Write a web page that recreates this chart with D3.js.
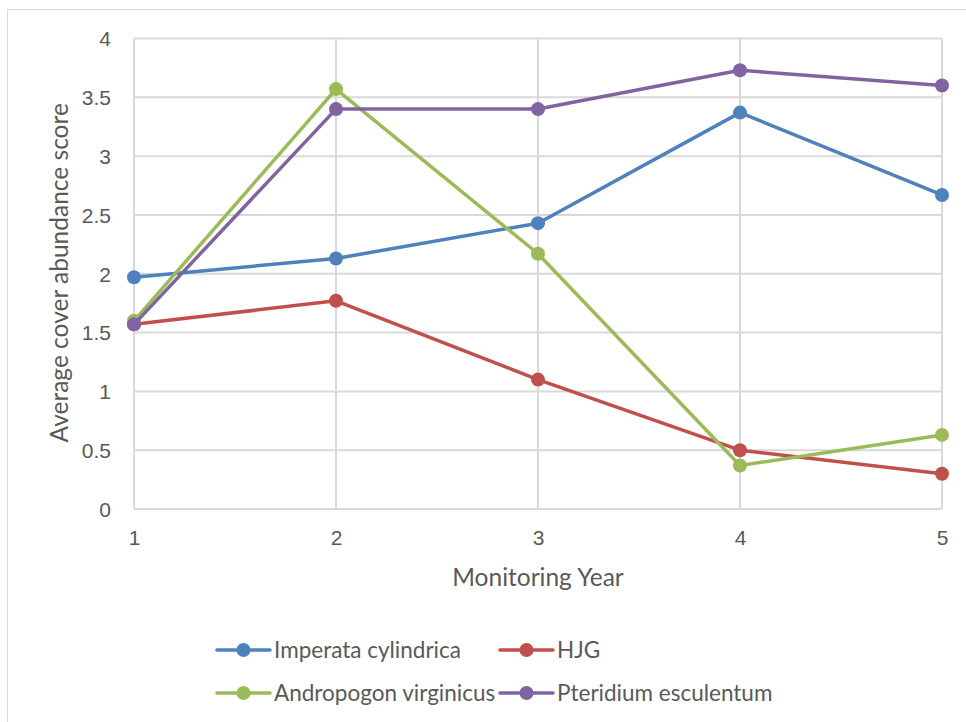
<!DOCTYPE html>
<html>
<head>
<meta charset="utf-8">
<script src="https://cdn.jsdelivr.net/npm/d3@7"></script>
<style>
  html, body { margin: 0; padding: 0; background: #fff; }
  svg { display: block; font-family: Lato, "Open Sans", sans-serif; }
</style>
</head>
<body>
<svg id="chart" width="966" height="722"></svg>
<script>
// Monitoring years and average cover abundance scores per species
const years = [1, 2, 3, 4, 5];
const seriesNames = ["Imperata cylindrica", "HJG", "Andropogon virginicus", "Pteridium esculentum"];
const imperata = [1.97, 2.13, 2.43, 3.37, 2.67];
const hjg = [1.57, 1.77, 1.10, 0.50, 0.30];
const andropogon = [1.60, 3.57, 2.17, 0.37, 0.63];
const pteridium = [1.57, 3.40, 3.40, 3.73, 3.60];
const yTicks = [0, 0.5, 1, 1.5, 2, 2.5, 3, 3.5, 4];
const colors = ["#4F81BD", "#C0504D", "#9BBB59", "#8064A2"];

const series = [imperata, hjg, andropogon, pteridium].map((vals, i) => ({
  name: seriesNames[i], color: colors[i],
  points: vals.map((v, j) => ({ x: years[j], y: v }))
}));

const svg = d3.select("#chart");
const grid = "#D9D9D9";
const textColor = "#595959";

// chart frame
svg.append("rect")
  .attr("x", 7.5).attr("y", 9.5).attr("width", 970).attr("height", 730)
  .attr("fill", "none").attr("stroke", grid).attr("stroke-width", 1);

const plotLeft = 134, plotRight = 942, plotTop = 38.5, plotBottom = 509;
const x = d3.scaleLinear().domain([1, 5]).range([plotLeft, plotRight]);
const y = d3.scaleLinear().domain([0, 4]).range([plotBottom, plotTop]);

// horizontal gridlines
svg.append("g")
  .selectAll("line").data(yTicks).join("line")
  .attr("x1", plotLeft).attr("x2", plotRight)
  .attr("y1", d => y(d)).attr("y2", d => y(d))
  .attr("stroke", grid).attr("stroke-width", 2);

// vertical gridlines
svg.append("g")
  .selectAll("line").data(years).join("line")
  .attr("x1", d => x(d)).attr("x2", d => x(d))
  .attr("y1", plotTop).attr("y2", plotBottom)
  .attr("stroke", grid).attr("stroke-width", 2);

// y axis labels
const yAxis = d3.axisLeft(y).tickValues(yTicks).tickSize(0).tickPadding(0).tickFormat(d3.format("~g"));
const yg = svg.append("g").attr("transform", `translate(${plotLeft - 23},0)`).call(yAxis);
yg.select(".domain").remove();
yg.selectAll("text").attr("fill", textColor).style("font-size", "21px").attr("dy", "0.35em");

// x axis labels
const xAxis = d3.axisBottom(x).tickValues(years).tickSize(0).tickPadding(0).tickFormat(d3.format("d"));
const xg = svg.append("g").attr("transform", `translate(0,${plotBottom + 21})`).call(xAxis);
xg.select(".domain").remove();
xg.selectAll("text").attr("fill", textColor).style("font-size", "21px").attr("dy", "0.71em");

// axis titles
svg.append("text")
  .attr("transform", `translate(68,${(plotTop + plotBottom) / 2 - 1}) rotate(-90)`)
  .attr("text-anchor", "middle").attr("fill", textColor)
  .style("font-size", "24.5px").text("Average cover abundance score");

svg.append("text")
  .attr("x", (plotLeft + plotRight) / 2).attr("y", 586)
  .attr("text-anchor", "middle").attr("fill", textColor)
  .style("font-size", "24.5px").text("Monitoring Year");

// series lines and markers
const line = d3.line().x(d => x(d.x)).y(d => y(d.y));
series.forEach(s => {
  const g = svg.append("g");
  g.append("path").datum(s.points)
    .attr("d", line).attr("fill", "none")
    .attr("stroke", s.color).attr("stroke-width", 3.5)
    .attr("stroke-linejoin", "round").attr("stroke-linecap", "round");
  g.selectAll("circle").data(s.points).join("circle")
    .attr("cx", d => x(d.x)).attr("cy", d => y(d.y))
    .attr("r", 7).attr("fill", s.color);
});

// legend
const legendPos = [[217, 650], [500, 650], [217, 693], [500, 693]];
series.forEach((s, i) => {
  const [lx, ly] = legendPos[i];
  const g = svg.append("g").attr("transform", `translate(${lx},${ly})`);
  g.append("line").attr("x1", 0).attr("x2", 53).attr("y1", 0).attr("y2", 0)
    .attr("stroke", s.color).attr("stroke-width", 3.5).attr("stroke-linecap", "round");
  g.append("circle").attr("cx", 26.5).attr("cy", 0).attr("r", 7).attr("fill", s.color);
  g.append("text").attr("x", 57).attr("y", 0).attr("dy", "0.35em")
    .attr("fill", textColor).style("font-size", "22.5px").text(s.name);
});
</script>
</body>
</html>
